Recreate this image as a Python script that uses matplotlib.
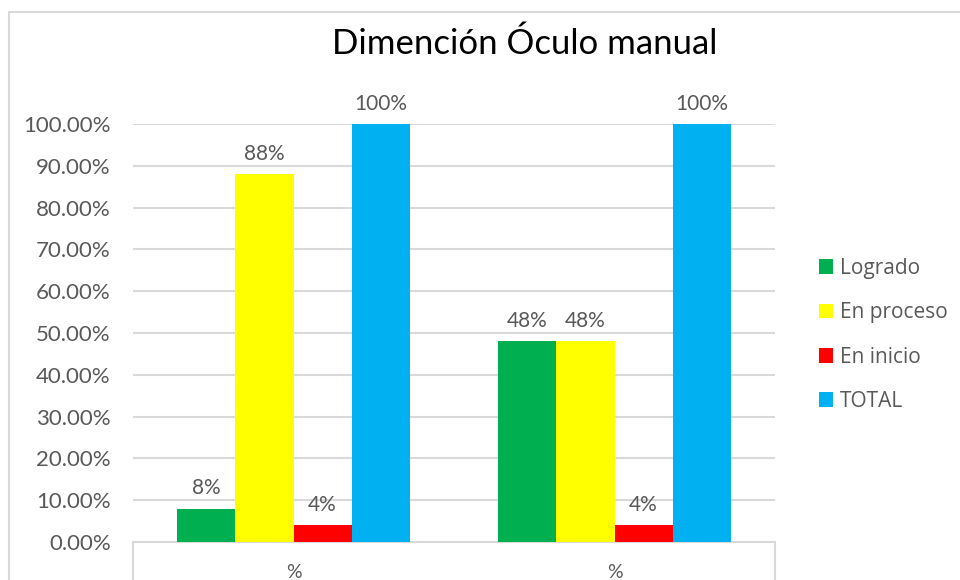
# gráfico de barras agrupadas: Dimención Óculo manual
import matplotlib.pyplot as plt
import numpy as np
from matplotlib.patches import Rectangle

# datos
categorias = ['%', '%']
series = ['Logrado', 'En proceso', 'En inicio', 'TOTAL']
logrado = [0.08, 0.48]
en_proceso = [0.88, 0.48]
en_inicio = [0.04, 0.04]
total = [1.00, 1.00]
etiquetas = [['8%', '48%'], ['88%', '48%'], ['4%', '4%'], ['100%', '100%']]

colores = ['#00B050', '#FFFF00', '#FF0000', '#00B0F0']
gris = '#595959'
linea = '#D9D9D9'

plt.rcParams['font.family'] = ['Lato', 'DejaVu Sans']

fg = plt.figure(figsize=(9.6, 5.8), dpi=100)
ax = fg.add_axes([133 / 960, 1 - 542 / 580, (775 - 133) / 960, (542 - 124) / 580])

# borde del gráfico
fg.patches.append(Rectangle((9 / 960, -0.1), 1.2, 1 - 12 / 580 + 0.1,
                            transform=fg.transFigure, fill=False,
                            edgecolor=linea, linewidth=1.5))

x = np.arange(len(categorias))
ancho = 0.181
valores = [logrado, en_proceso, en_inicio, total]
for i, (nombre, vals) in enumerate(zip(series, valores)):
    pos = x + (i - 1.5) * ancho
    ax.bar(pos, vals, ancho, color=colores[i], label=nombre, zorder=3)
    for px, v, t in zip(pos, vals, etiquetas[i]):
        ax.text(px, v + 0.025, t, ha='center', va='bottom', fontsize=15,
                color=gris, clip_on=False)

ax.set_xlim(-0.5, 1.5)
ax.set_ylim(0, 1.0)
ax.set_yticks(np.arange(0, 1.01, 0.1))
ax.set_yticklabels([f'{v * 100:.2f}%' for v in np.arange(0, 1.01, 0.1)])
ax.grid(axis='y', color=linea, linewidth=1.5, zorder=0)

# separadores de categorías y etiquetas
ax.set_xticks([-0.5, 1.5])
ax.set_xticklabels([])
ax.tick_params(axis='x', which='major', length=40, color=linea, width=1.5, direction='out')
ax.set_xticks(x, minor=True)
ax.set_xticklabels(categorias, minor=True)
ax.tick_params(axis='x', which='minor', length=0, pad=16, labelsize=14, labelcolor=gris)
ax.tick_params(axis='y', length=0, labelsize=16, labelcolor=gris, pad=16)

for s in ['top', 'right', 'left']:
    ax.spines[s].set_visible(False)
ax.spines['bottom'].set_color(linea)
ax.spines['bottom'].set_linewidth(1.5)

fg.text(525 / 960, 1 - 44 / 580, 'Dimención Óculo manual', ha='center', va='center',
        fontsize=25, color='black')

ax.legend(loc='center left', bbox_to_anchor=(800 / 960, 1 - 335 / 580),
          bbox_transform=fg.transFigure, frameon=False,
          labelcolor=gris, handlelength=0.7, handleheight=0.7,
          handletextpad=0.3, labelspacing=1.12, prop={'family': 'Open Sans', 'size': 15})

fg.savefig('out.png', dpi=100)
